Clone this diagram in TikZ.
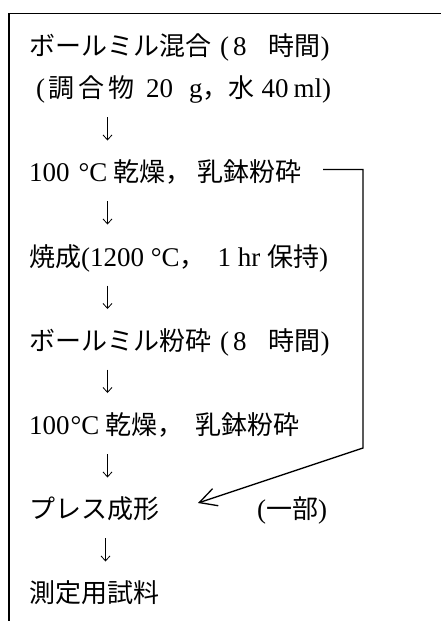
\documentclass[tikz,border=0pt]{standalone}
\usepackage{fontspec}
\setmainfont{Liberation Serif}
\newfontfamily\jpfont{Noto Sans CJK JP}
\newcommand\jtxt[1]{{\jpfont\fontsize{26}{30}\selectfont #1}}
\usetikzlibrary{arrows.meta}
\begin{document}
\begin{tikzpicture}[x=1pt,y=-1pt,
  txt/.style={anchor=base west, inner sep=0pt, font=\fontsize{27}{32}\selectfont},
  frame/.style={line width=1.8pt, line cap=rect},
  down/.style={line width=0.8pt, -{Straight Barb[length=5pt,width=9pt]}},
  feedback/.style={line width=1.3pt, -{Straight Barb[length=17pt,width=18pt,line width=1.3pt]}}]
\useasboundingbox (0,0) rectangle (440,621);
% frame (cropped box)
\draw[frame] (9,621) -- (9,13.5) -- (440,13.5);
% steps
\node[txt] (s1)  at (29,55.5)  {\jtxt{ボールミル混合}\hspace{9pt}(\hspace{4pt}8\hspace{22pt}\jtxt{時間})};
\node[txt] (s1b) at (29,97.6)  {\hspace{7pt}(\hspace{3pt}\jtxt{調}\hspace{4pt}\jtxt{合}\hspace{4pt}\jtxt{物}\hspace{12pt}20\hspace{16pt}g\jtxt{，水}\hspace{7pt}40\hspace{5pt}ml)};
\node[txt] (s2)  at (29,181.8) {100\hspace{9pt}°C\hspace{6pt}\jtxt{乾燥，}\hspace{6pt}\jtxt{乳鉢粉砕}};
\node[txt] (s3)  at (29,266.0) {\jtxt{焼成}(1200 °C\jtxt{，}\hspace{12pt}1 hr \jtxt{保持})};
\node[txt] (s4)  at (29,350.2) {\jtxt{ボールミル粉砕}\hspace{9pt}(\hspace{4pt}8\hspace{22pt}\jtxt{時間})};
\node[txt] (s5)  at (29,434.4) {100\hspace{1pt}°C\hspace{6pt}\jtxt{乾燥，}\hspace{12pt}\jtxt{乳鉢粉砕}};
\node[txt] (s6)  at (29,518.6) {\jtxt{プレス成形}};
\node[txt] (part) at (257,518.6) {(\jtxt{一部})};
\node[txt] (s7)  at (29,602.8) {\jtxt{測定用試料}};
% down arrows
\coordinate (a1t) at (107.5,117); \coordinate (a1b) at (107.5,140.5);
\coordinate (a2t) at (107.5,201); \coordinate (a2b) at (107.5,224.5);
\coordinate (a3t) at (107.5,285.5); \coordinate (a3b) at (107.5,309);
\coordinate (a4t) at (107.5,369.5); \coordinate (a4b) at (107.5,393);
\coordinate (a5t) at (107.5,454); \coordinate (a5b) at (107.5,477.5);
\coordinate (a6t) at (105.5,538); \coordinate (a6b) at (105.5,561.5);
\foreach \i in {1,...,6} {\draw[down] (a\i t) -- (a\i b);}
% feedback connector
\coordinate (fb0) at (323,169.5);
\coordinate (fb1) at (363,169.5);
\coordinate (fb2) at (363,448);
\coordinate (fbtip) at (198,503);
\draw[feedback] (fb0) -- (fb1) -- (fb2) -- (fbtip);
\end{tikzpicture}
\end{document}
